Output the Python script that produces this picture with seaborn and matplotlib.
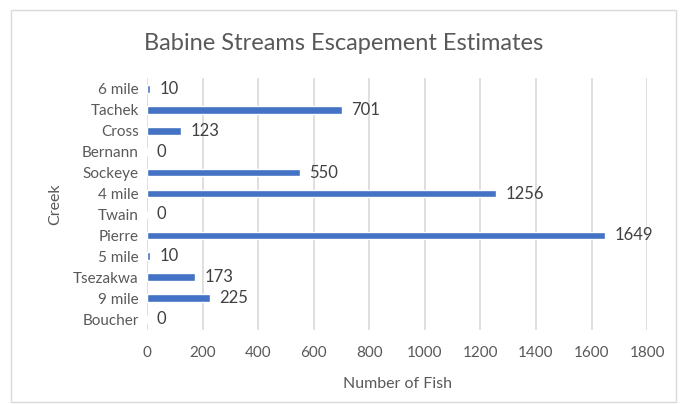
import matplotlib.pyplot as plt
import seaborn as sns
import pandas as pd
from matplotlib.patches import Rectangle

# data, top to bottom as shown
creeks = ["6 mile", "Tachek", "Cross", "Bernann", "Sockeye", "4 mile",
          "Twain", "Pierre", "5 mile", "Tsezakwa", "9 mile", "Boucher"]
fish = [10, 701, 123, 0, 550, 1256, 0, 1649, 10, 173, 225, 0]
x_ticks = [0, 200, 400, 600, 800, 1000, 1200, 1400, 1600, 1800]

BAR_COLOR = "#4472C4"
TEXT_COLOR = "#595959"
GRID_COLOR = "#D9D9D9"

sns.set_theme(style="white")
plt.rcParams['font.family'] = ['Lato', 'DejaVu Sans']

df = pd.DataFrame({"Creek": creeks, "Fish": fish})

fig = plt.figure(figsize=(6.87, 4.04), dpi=100)
ax = fig.add_axes([0.214, 0.184, 0.728, 0.622])

sns.barplot(data=df, x="Fish", y="Creek", order=creeks, color=BAR_COLOR,
            width=0.37, ax=ax, saturation=1)

ax.set_xlim(0, 1800)
ax.set_ylim(len(creeks) - 0.5, -0.5)
ax.set_xticks(x_ticks)
ax.xaxis.grid(True, color=GRID_COLOR, linewidth=1.2)
ax.set_axisbelow(True)
for s in ax.spines.values():
    s.set_visible(False)
ax.tick_params(axis="both", length=0, labelsize=11, colors=TEXT_COLOR, pad=6)
ax.tick_params(axis="x", pad=12)

# value labels
for i, v in enumerate(fish):
    ax.annotate(str(v), (v, i), xytext=(7, 0), textcoords="offset points",
                va="center", ha="left", fontsize=12, color="#404040")

ax.set_xlabel("Number of Fish", fontsize=11.5, color=TEXT_COLOR, labelpad=12)
ax.set_ylabel("Creek", fontsize=11.5, color=TEXT_COLOR, labelpad=8)

fig.text(0.5, 1 - 43 / 404, "Babine Streams Escapement Estimates",
         ha="center", va="center", fontsize=17, color=TEXT_COLOR)

# chart border
fig.patches.append(Rectangle((11 / 687, 2 / 404), 665 / 687, 392 / 404,
                             transform=fig.transFigure, fill=False,
                             edgecolor=GRID_COLOR, linewidth=1))

fig.savefig("out.png", dpi=100, facecolor="white")
